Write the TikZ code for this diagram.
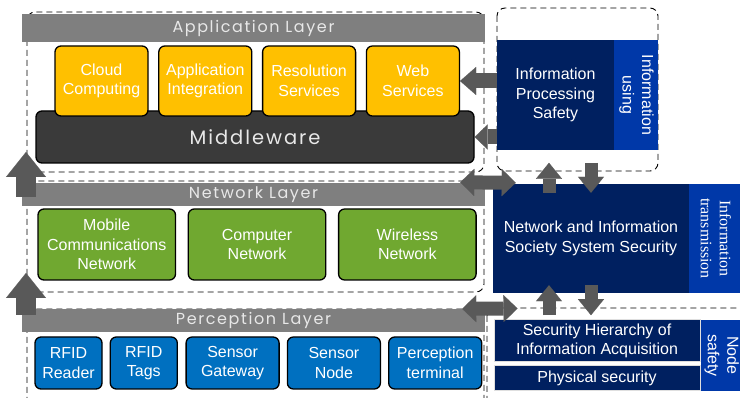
\documentclass[tikz,border=0pt]{standalone}
\usepackage{fontspec}
\setmainfont{Liberation Sans}
\newfontfamily\layerfont[LetterSpace=10]{Poppins}
\newfontfamily\sideserif{Liberation Serif}
\usepackage{xcolor}
\definecolor{IOTbar}{HTML}{7F7F7F}
\definecolor{IOTbarText}{HTML}{E8E8E8}
\definecolor{IOTarrow}{HTML}{595959}
\definecolor{IOTyellow}{HTML}{FFC000}
\definecolor{IOTgreen}{HTML}{70A830}
\definecolor{IOTblue}{HTML}{0070C0}
\definecolor{IOTnavy}{HTML}{002060}
\definecolor{IOTside}{HTML}{0038A8}
\definecolor{IOTmid}{HTML}{3A3A3A}
\usepackage{tikz}
\usetikzlibrary{positioning,arrows.meta,calc}

\begin{document}
\begin{tikzpicture}[
  x=1pt, y=-1pt,
  node distance=9.5pt,
  body/.style={font=\fontsize{16}{19.5}\selectfont},
  frame/.style={draw=black, dash pattern=on 6pt off 4pt, line width=0.9pt, rounded corners=8pt},
  layerbar/.style={fill=IOTbar, text=IOTbarText, inner sep=0pt, minimum width=463pt,
    font=\layerfont\fontsize{16}{18}\selectfont},
  tile/.style={draw=black, line width=1.3pt, rounded corners=6pt, text=white, align=center,
    inner sep=0pt, body},
  app/.style={tile, fill=IOTyellow, minimum width=93pt, minimum height=70pt},
  net/.style={tile, fill=IOTgreen, minimum width=137.5pt, minimum height=71pt},
  per/.style={tile, fill=IOTblue, minimum height=52pt},
  sec/.style={fill=IOTnavy, text=white, align=center, inner sep=0pt, body},
  side/.style={fill=IOTside, text=white, align=center, inner sep=0pt, body, rotate=-90, anchor=south},
  uparr/.style={draw=IOTarrow, line width=20pt, -{Triangle[length=25pt, width=40pt, line width=0.1pt]}},
  larr/.style={draw=IOTarrow, line width=15pt, -{Triangle[length=16pt, width=28pt, line width=0.1pt]}},
  dblarr/.style={draw=IOTarrow, line width=14pt,
    {Triangle[length=14pt, width=27pt, line width=0.1pt]}-{Triangle[length=14pt, width=27pt, line width=0.1pt]}},
  varr/.style={draw=IOTarrow, line width=13pt, -{Triangle[length=16pt, width=26pt, line width=0.1pt]}}
]
\useasboundingbox (0,0) rectangle (740,398);

% dashed frames
\draw[frame] (27,12) rectangle (484,172);
\draw[frame] (27,181) rectangle (484,292);
\draw[frame] (27,309) rectangle (484,414);
\draw[frame] (497,8) rectangle (658,171);
\draw[frame] (487,308) rectangle (760,414);

% application layer
\node[layerbar, minimum height=28pt] (appbar) at (253.5,28) {Application Layer};
\node[tile, fill=IOTmid, text=IOTbarText, minimum width=438pt, minimum height=52pt,
  font=\layerfont\fontsize{19.5}{24}\selectfont] (mw) at (255,137) {\raisebox{-3pt}{Middleware}};
\node[app] (cc) at (101.5,81) {Cloud\\Computing};
\node[app, right=of cc] (ai) {Application\\Integration};
\node[app, right=of ai] (rs) {Resolution\\Services};
\node[app, right=of rs] (ws) {Web\\Services};

% network layer
\node[layerbar, minimum height=23pt] (netbar) at (253.5,195) {Network Layer};
\node[net] (mcn) at (106.75,244.5) {Mobile\\Communications\\Network};
\node[net, right=11.5pt of mcn] (cn) {Computer\\Network};
\node[net, right=11.5pt of cn] (wn) {Wireless\\Network};

% perception layer
\node[layerbar, minimum height=23pt] (perbar) at (253.5,320.5) {Perception Layer};
\node[per, minimum width=67pt] (rr) at (68.5,363) {RFID\\Reader};
\node[per, minimum width=67pt, right=7pt of rr] (rt) {RFID\\Tags};
\node[per, minimum width=93pt, right=7.5pt of rt] (sg) {Sensor\\Gateway};
\node[per, minimum width=93pt, right=7pt of sg] (sn) {Sensor\\Node};
\node[per, minimum width=93pt, right=7pt of sn] (pt) {Perception\\terminal};

% security side
\node[sec, minimum width=117pt, minimum height=110pt] (ips) at (555.5,95) {Information\\Processing\\Safety};
\node[side, minimum width=110pt, minimum height=44pt] (ipsside) at (ips.east) {Information\\using};
\node[sec, minimum width=196pt, minimum height=109pt] (nss) at (591,238.5) {Network and Information\\Society System Security};
\node[side, minimum width=109pt, minimum height=53pt, font=\sideserif\fontsize{16}{19}\selectfont] (nssside) at (nss.east) {Information\\transmission};
\node[sec, draw=gray!25, line width=1pt, minimum width=206pt, minimum height=42pt] (sha) at (597,341) {Security Hierarchy of\\Information Acquisition};
\node[sec, draw=gray!25, line width=1pt, minimum width=206pt, minimum height=25pt, below=3pt of sha] (phy) {Physical security};
\node[side, minimum width=71pt, minimum height=42pt] (nodeside) at ($(sha.north east)!0.5!(phy.south east)$) {Node\\safety};

% arrows
\coordinate (up1a) at (26,197);
\coordinate (up1b) at (26,152);
\coordinate (up2a) at (26,315);
\coordinate (up2b) at (26,273);
\draw[uparr] (up1a) -- (up1b);
\draw[uparr] (up2a) -- (up2b);

\draw[larr] (ips.west |- ws.east) -- (ws.east);
\draw[larr, -{Triangle[length=13pt, width=25pt, line width=0.1pt]}] (ips.west |- mw.east) -- (mw.east);

\draw[dblarr] ($(netbar.north east)+(-25,-1)$) -- ($(nss.north west)+(23,-1)$);
\draw[dblarr] ($(perbar.north east)+(-23,0)$) -- ($(sha.north west)+(24,-11)$);

\draw[varr] ($(nss.north)+(-42,9)$) -- ($(nss.north)+(-42,-21)$);
\draw[varr] ($(nss.north)+(0,-21)$) -- ($(nss.north)+(0,9)$);
\draw[varr] ($(nss.south)+(-42,22)$) -- ($(nss.south)+(-42,-8)$);
\draw[varr] ($(nss.south)+(0,-8)$) -- ($(nss.south)+(0,22)$);
\end{tikzpicture}
\end{document}
